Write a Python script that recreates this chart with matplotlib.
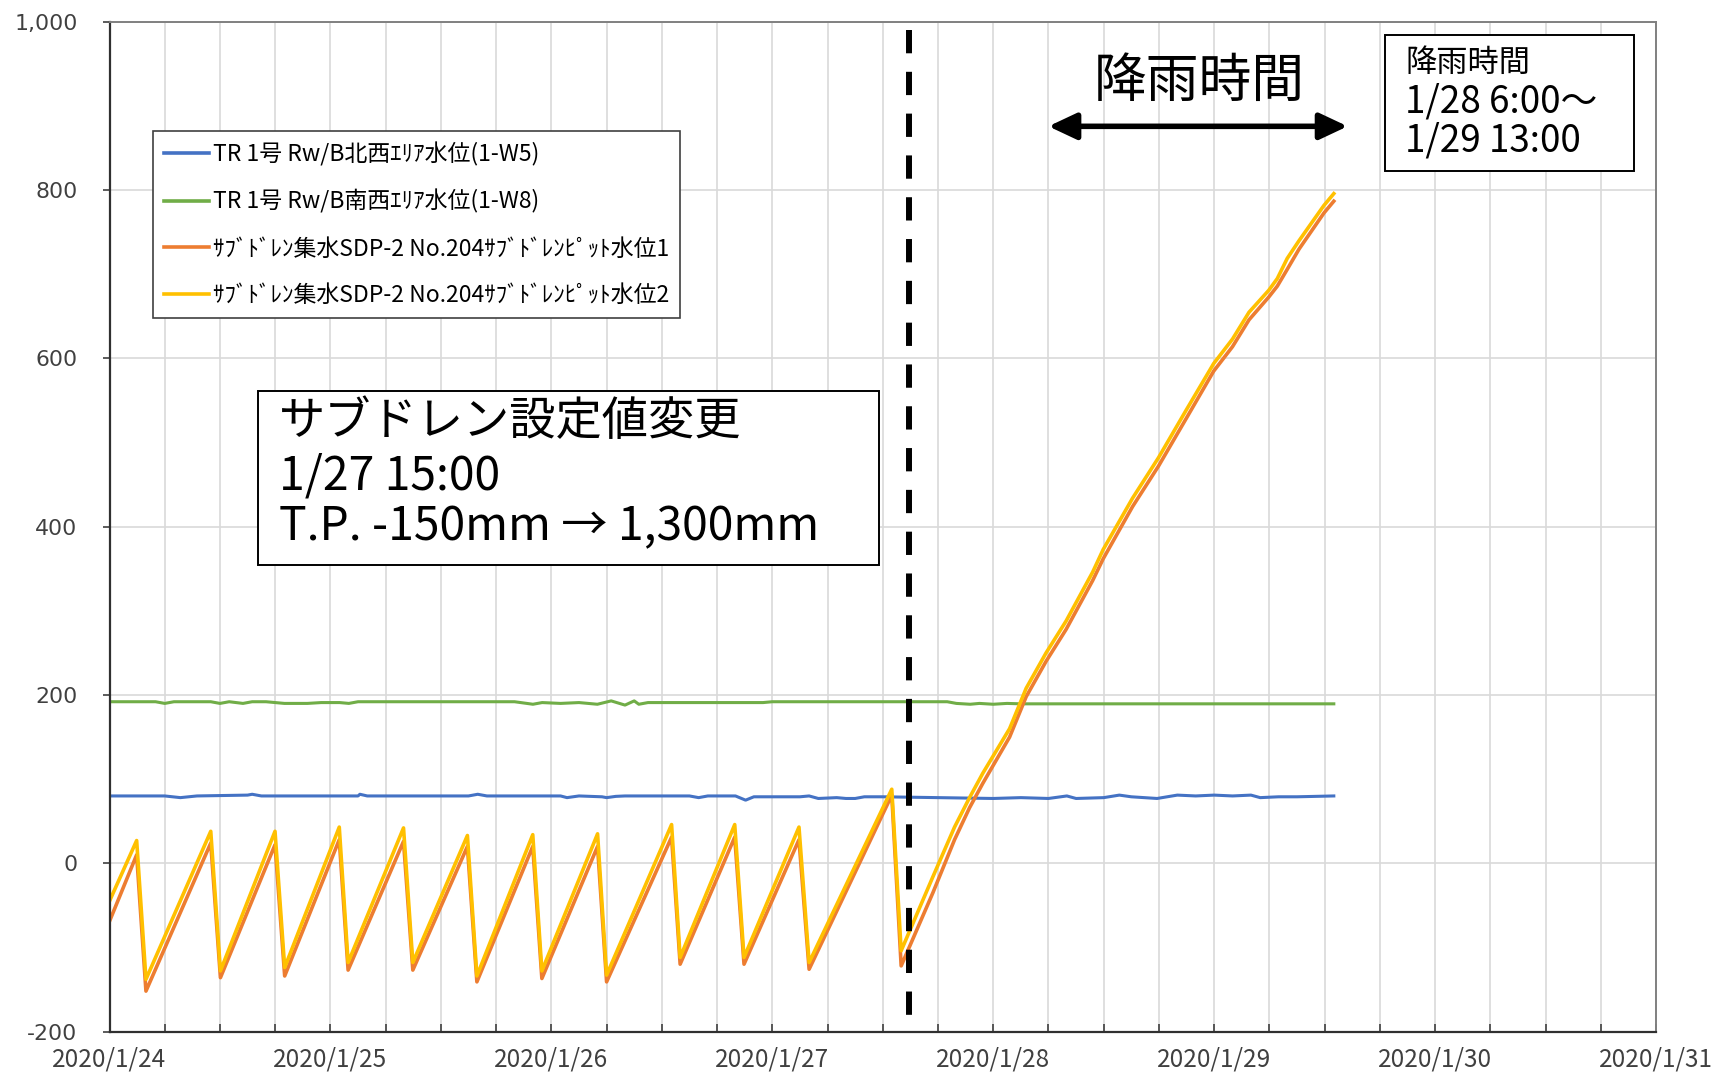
import matplotlib
matplotlib.use("Agg")
import matplotlib.pyplot as plt
import matplotlib.dates as mdates
from matplotlib.patches import Rectangle
from matplotlib.ticker import FixedLocator, FuncFormatter
import pandas as pd

plt.rcParams['font.family'] = ['Noto Sans CJK JP', 'DejaVu Sans']

# --- data (hours after 2020/1/24 0:00) ---
t0 = pd.Timestamp('2020-01-24 00:00')

blue_h = [0, 6, 7.7, 9.5, 15, 15.5, 16.5, 27, 27.2, 28, 39, 40, 41, 49, 49.7, 51,
          53.5, 54, 55, 56, 63, 64, 65, 68, 69.1, 70, 75, 76, 77, 79, 80, 81, 82,
          84, 90, 96, 99, 102, 104, 105, 108, 109.7, 111, 113.8, 116, 118, 120,
          122, 124, 125, 127, 129, 133]
blue_v = [80, 80, 78, 80, 81, 82, 80, 80, 82, 80, 80, 82, 80, 80, 78, 80,
          79, 78, 79.5, 80, 80, 78, 80, 80, 75, 79, 79, 80, 77, 78, 77, 77, 79,
          79, 78, 77, 78, 77, 80, 77, 78, 81, 79, 77, 81, 80, 81,
          80, 81, 78, 79, 79, 80]

green_h = [0, 5, 6, 7, 11, 12, 13, 14.5, 15.5, 17, 19, 21.5, 23, 25, 26, 27, 44,
           46, 47, 49, 51, 53, 54.5, 56, 57, 57.5, 58.5, 60, 71, 72, 84, 91, 92,
           93.5, 94.5, 96, 97.5, 99, 133]
green_v = [192, 192, 190, 192, 192, 190, 192, 190, 192, 192, 190, 190, 191, 191, 190, 192, 192,
           189, 191, 190, 191, 189, 193, 188, 193, 189, 191, 191, 191, 192, 192, 192, 190,
           189, 190, 189, 190, 189.5, 189.5]

saw_h = [0, 2.95, 3.96, 11.0, 12.05, 17.98, 19.03, 24.96, 25.92, 31.94, 32.95,
         38.88, 39.91, 45.98, 46.97, 53.02, 54.0, 61.06, 61.99, 67.92, 68.93,
         74.9, 76.0, 84.98, 86.0, 89.45, 91.8, 93.43, 94.87, 97.78, 99.58,
         101.74, 103.92, 106.8, 107.95, 111.14, 113.95, 116.93, 119.95, 121.99,
         123.79, 125.93, 126.86, 127.94, 129.22, 131.93, 133.0]
pit1_v = [-69, 10, -152, 24, -136, 22, -134, 28, -127, 26, -127,
          20, -141, 20, -137, 20, -141, 31, -120, 31, -120,
          28, -126, 81, -122, -35, 28, 66, 95, 150, 198,
          240, 278, 336, 362, 424, 472, 528, 585, 614,
          646, 673, 686, 706, 730, 773, 787]
pit2_v = [-45, 27, -138, 38, -128, 38, -124, 43, -118, 42, -118,
          33, -134, 34, -128, 35, -133, 46, -112, 46, -112,
          43, -118, 88, -104, -16, 43, 78, 107, 160, 208,
          250, 288, 346, 373, 434, 482, 538, 594, 623,
          655, 681, 695, 719, 740, 782, 796]

labels = ['TR 1号 Rw/B北西ｴﾘｱ水位(1-W5)',
          'TR 1号 Rw/B南西ｴﾘｱ水位(1-W8)',
          'ｻﾌﾞﾄﾞﾚﾝ集水SDP-2 No.204ｻﾌﾞﾄﾞﾚﾝﾋﾟｯﾄ水位1',
          'ｻﾌﾞﾄﾞﾚﾝ集水SDP-2 No.204ｻﾌﾞﾄﾞﾚﾝﾋﾟｯﾄ水位2']
colors = ['#4472C4', '#70AD47', '#ED7D31', '#FFC000']

change_h = 86.8          # 設定値変更 1/27 15:00
rain_h = (102.0, 134.5)  # 降雨時間 arrow span
y_ticks = [-200, 0, 200, 400, 600, 800, 1000]


def tt(hours):
    return t0 + pd.to_timedelta(hours, unit='h')


W, H = 1717, 1074
fig = plt.figure(figsize=(W / 100, H / 100), dpi=100)
ax = fig.add_axes([109.5 / W, 1 - 1031.5 / H, (1656 - 109.5) / W, (1031.5 - 22) / H])

ax.plot(tt(blue_h), blue_v, color=colors[0], lw=2.2, label=labels[0])
ax.plot(tt(green_h), green_v, color=colors[1], lw=2.2, label=labels[1])
ax.plot(tt(saw_h), pit1_v, color=colors[2], lw=2.6, label=labels[2])
ax.plot(tt(saw_h), pit2_v, color=colors[3], lw=2.6, label=labels[3])

ax.set_xlim(t0, t0 + pd.Timedelta(days=7))
ax.set_ylim(-200, 1000)

ax.xaxis.set_major_locator(mdates.DayLocator())
ax.xaxis.set_minor_locator(mdates.HourLocator(byhour=[6, 12, 18]))
ax.xaxis.set_major_formatter(FuncFormatter(
    lambda v, p: (lambda d: f"{d.year}/{d.month}/{d.day}")(mdates.num2date(v))))
ax.yaxis.set_major_locator(FixedLocator(y_ticks))
ax.yaxis.set_major_formatter(FuncFormatter(lambda v, p: f"{int(v):,}"))

ax.grid(True, which='both', axis='x', color='#d9d9d9', lw=1.2)
ax.grid(True, which='major', axis='y', color='#d9d9d9', lw=1.2)
ax.set_axisbelow(True)

ax.tick_params(axis='x', which='both', direction='in', length=6, width=1.2,
               color='#404040', labelsize=17.5, labelcolor='#404040', pad=11)
ax.tick_params(axis='y', direction='out', length=5, width=1.2, color='#404040',
               labelsize=15.8, labelcolor='#404040', pad=18)
for lab in ax.get_yticklabels():
    lab.set_family('DejaVu Sans')
for s in ['left', 'bottom']:
    ax.spines[s].set_color('#303030')
    ax.spines[s].set_linewidth(1.6)
for s in ['top', 'right']:
    ax.spines[s].set_color('#808080')
    ax.spines[s].set_linewidth(1.4)

leg = ax.legend(loc='upper left', bbox_to_anchor=(0.028, 0.892), borderaxespad=0,
                fontsize=16.5, frameon=True, fancybox=False, edgecolor='#404040',
                framealpha=1, handlelength=2.0, handletextpad=0.15,
                labelspacing=1.03, borderpad=0.47)
leg.get_frame().set_linewidth(1.2)
for ln in leg.get_lines():
    ln.set_linewidth(2.6)

# dashed vertical line at setting change
ax.plot([tt(change_h), tt(change_h)], [991, -184], color='black', lw=4.3,
        dashes=(3.9, 3.1), solid_capstyle='butt', dash_capstyle='butt')

# rain period arrow
ax.annotate('', xy=(tt(rain_h[0]), 876), xytext=(tt(rain_h[1]), 876),
            arrowprops=dict(arrowstyle='<|-|>,head_length=0.85,head_width=0.4',
                            mutation_scale=20, lw=4, color='black',
                            shrinkA=0, shrinkB=0))


def fx(x):
    return x / W


def fy(y):
    return 1 - y / H


def box(x1, y1, x2, y2):
    fig.add_artist(Rectangle((fx(x1), fy(y2)), fx(x2 - x1), (y2 - y1) / H,
                             transform=fig.transFigure, facecolor='white',
                             edgecolor='black', lw=1.4, zorder=5))


box(258, 391, 879, 565)
for txt, y in [('サブドレン設定値変更', 422), ('1/27 15:00', 476),
               ('T.P. -150mm → 1,300mm', 527)]:
    fig.text(fx(279), fy(y), txt, fontsize=33.3, ha='left', va='center', zorder=6)

box(1385, 35, 1634, 171)
fig.text(fx(1405), fy(63), '降雨時間', fontsize=22.5, ha='left', va='center', zorder=6)
fig.text(fx(1405), fy(102), '1/28 6:00～', fontsize=26.5, ha='left', va='center', zorder=6)
fig.text(fx(1405), fy(140.5), '1/29 13:00', fontsize=26.5, ha='left', va='center', zorder=6)

fig.text(fx(1199), fy(81), '降雨時間', fontsize=38, ha='center', va='center')

fig.savefig('out.png', dpi=100, facecolor='white')
